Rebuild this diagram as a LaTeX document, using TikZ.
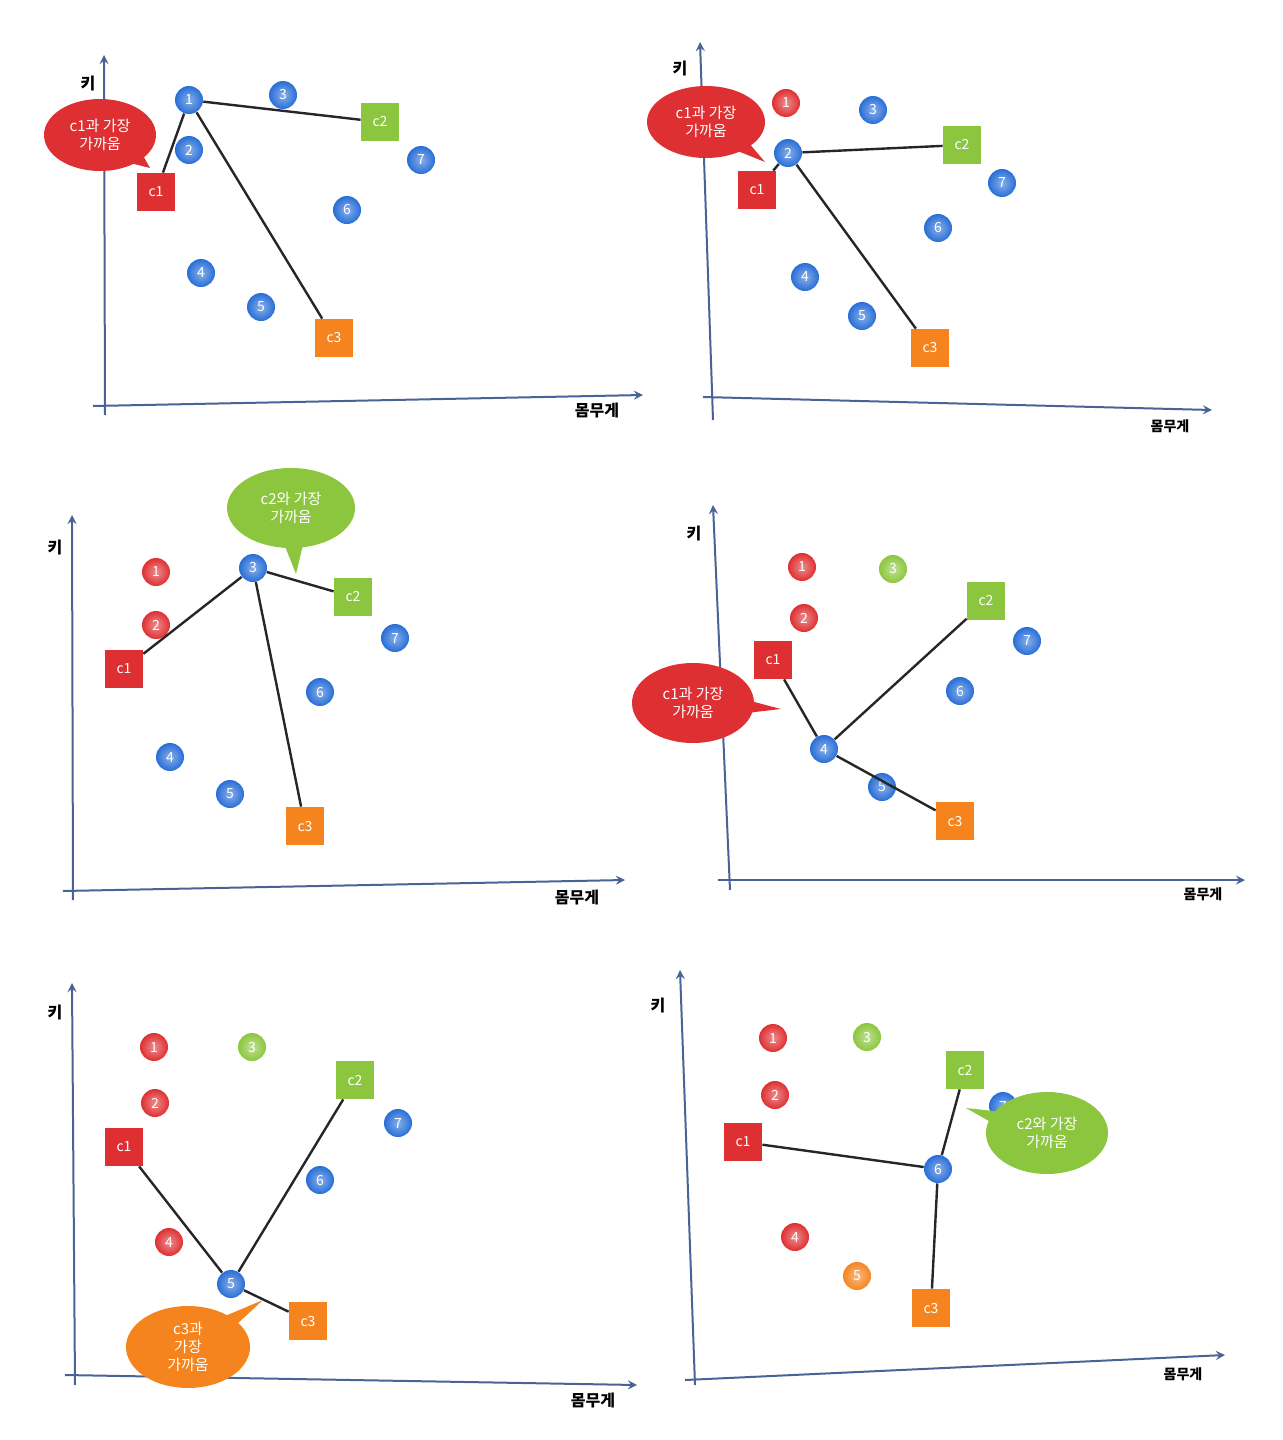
\documentclass[tikz,border=0pt]{standalone}
\usepackage{fontspec}
\setmainfont{Noto Sans CJK KR}
\usetikzlibrary{arrows,shapes.callouts}

\definecolor{ptblue}{RGB}{40,110,215}
\definecolor{ptred}{RGB}{222,48,50}
\definecolor{ptgreen}{RGB}{140,198,62}
\definecolor{ptorange}{RGB}{246,132,30}
\definecolor{axisblue}{RGB}{72,100,150}

\begin{document}
\begin{tikzpicture}
  [x=0.5pt,y=-0.5pt,
   pt/.style={circle,minimum size=14pt,inner sep=0pt,text=white,font=\fontsize{7}{8}\selectfont},
   ctr/.style={rectangle,minimum size=19pt,inner sep=0pt,text=white,font=\fontsize{7}{8}\selectfont},
   link/.style={draw=black!85,line width=1.2pt},
   axis/.style={draw=axisblue,line width=1pt,->,>=stealth},
   axlabel/.style={font=\fontsize{8}{9}\selectfont\bfseries,inner sep=0pt},
   bubble/.style={ellipse callout,inner sep=0pt,text=white,align=center,
     font=\fontsize{7.5}{9}\selectfont}]

  \useasboundingbox (0,0) rectangle (1282,1440);

  % top left
  \foreach \n/\x/\y/\c in {1/189/100/blue,2/189/150/blue,3/283/95/blue,4/201/273/blue,
      5/261/307/blue,6/347/210/blue,7/421/160/blue}
    \node[pt,inner color=pt\c!55!white,outer color=pt\c] (a\n) at (\x,\y) {\n};
  \node[ctr,fill=ptred]    (ac1) at (156,192) {c1};
  \node[ctr,fill=ptgreen]  (ac2) at (380,122) {c2};
  \node[ctr,fill=ptorange] (ac3) at (334,338) {c3};
  \coordinate (ay0) at (105,415); \coordinate (ay1) at (104,55);
  \coordinate (ax0) at (93,406);  \coordinate (ax1) at (643,395);
  \draw[axis] (ay0) -- (ay1);
  \draw[axis] (ax0) -- (ax1);
  \node[axlabel] (aky) at (88,83) {키};
  \node[axlabel] (akg) at (597,411) {몸무게};
  \draw[link] (a1) -- (ac1) (a1) -- (ac2) (a1) -- (ac3);
  \node[bubble,fill=ptred,minimum width=56pt,minimum height=36pt,
    callout absolute pointer={(150,168)}] (asay) at (100,135) {c1과 가장\\가까움};

  % top right
  \foreach \n/\x/\y/\c in {1/786/103/red,2/788/153/blue,3/873/110/blue,4/805/277/blue,
      5/862/316/blue,6/938/228/blue,7/1002/183/blue}
    \node[pt,inner color=pt\c!55!white,outer color=pt\c] (b\n) at (\x,\y) {\n};
  \node[ctr,fill=ptred]    (bc1) at (757,190) {c1};
  \node[ctr,fill=ptgreen]  (bc2) at (962,145) {c2};
  \node[ctr,fill=ptorange] (bc3) at (930,348) {c3};
  \coordinate (by0) at (713,420); \coordinate (by1) at (700,42);
  \coordinate (bx0) at (703,397); \coordinate (bx1) at (1212,410);
  \draw[axis] (by0) -- (by1);
  \draw[axis] (bx0) -- (bx1);
  \node[axlabel] (bky) at (680,68) {키};
  \node[axlabel,font=\fontsize{7}{8}\selectfont\bfseries] (bkg) at (1170,426) {몸무게};
  \draw[link] (b2) -- (bc1) (b2) -- (bc2) (b2) -- (bc3);
  \node[bubble,fill=ptred,minimum width=59pt,minimum height=36pt,
    callout absolute pointer={(765,162)}] (bsay) at (706,122) {c1과 가장\\가까움};

  % middle left
  \foreach \n/\x/\y/\c in {1/156/572/red,2/156/625/red,3/253/568/blue,4/170/757/blue,
      5/230/794/blue,6/320/692/blue,7/395/638/blue}
    \node[pt,inner color=pt\c!55!white,outer color=pt\c] (c\n) at (\x,\y) {\n};
  \node[ctr,fill=ptred]    (cc1) at (124,669) {c1};
  \node[ctr,fill=ptgreen]  (cc2) at (353,597) {c2};
  \node[ctr,fill=ptorange] (cc3) at (305,826) {c3};
  \coordinate (cy0) at (73,900); \coordinate (cy1) at (72,515);
  \coordinate (cx0) at (63,891); \coordinate (cx1) at (625,880);
  \draw[axis] (cy0) -- (cy1);
  \draw[axis] (cx0) -- (cx1);
  \node[axlabel] (cky) at (55,547) {키};
  \node[axlabel] (ckg) at (577,897) {몸무게};
  \draw[link] (c3) -- (cc1) (c3) -- (cc2) (c3) -- (cc3);
  \node[bubble,fill=ptgreen,minimum width=64pt,minimum height=40pt,
    callout absolute pointer={(296,574)}] (csay) at (291,508) {c2와 가장\\가까움};

  % middle right
  \foreach \n/\x/\y/\c in {1/802/567/red,2/804/618/red,3/893/569/green,4/824/749/blue,
      5/882/787/blue,6/960/691/blue,7/1027/641/blue}
    \node[pt,inner color=pt\c!55!white,outer color=pt\c] (d\n) at (\x,\y) {\n};
  \node[ctr,fill=ptred]    (dc1) at (773,660) {c1};
  \node[ctr,fill=ptgreen]  (dc2) at (986,601) {c2};
  \node[ctr,fill=ptorange] (dc3) at (955,821) {c3};
  \coordinate (dy0) at (730,890); \coordinate (dy1) at (713,505);
  \coordinate (dx0) at (718,880); \coordinate (dx1) at (1245,880);
  \draw[axis] (dy0) -- (dy1);
  \draw[axis] (dx0) -- (dx1);
  \node[axlabel] (dky) at (694,533) {키};
  \node[axlabel,font=\fontsize{7}{8}\selectfont\bfseries] (dkg) at (1203,894) {몸무게};
  \draw[link] (d4) -- (dc1) (d4) -- (dc2) (d4) -- (dc3);
  \node[bubble,fill=ptred,minimum width=61pt,minimum height=40pt,
    callout absolute pointer={(781,709)}] (dsay) at (693,703) {c1과 가장\\가까움};

  % bottom left
  \foreach \n/\x/\y/\c in {1/154/1047/red,2/155/1103/red,3/252/1047/green,4/169/1242/red,
      5/231/1284/blue,6/320/1180/blue,7/398/1123/blue}
    \node[pt,inner color=pt\c!55!white,outer color=pt\c] (e\n) at (\x,\y) {\n};
  \node[ctr,fill=ptred]    (ec1) at (124,1147) {c1};
  \node[ctr,fill=ptgreen]  (ec2) at (355,1080) {c2};
  \node[ctr,fill=ptorange] (ec3) at (308,1321) {c3};
  \coordinate (ey0) at (75,1385); \coordinate (ey1) at (72,983);
  \coordinate (ex0) at (65,1375); \coordinate (ex1) at (637,1385);
  \draw[axis] (ey0) -- (ey1);
  \draw[axis] (ex0) -- (ex1);
  \node[axlabel] (eky) at (55,1012) {키};
  \node[axlabel] (ekg) at (593,1400) {몸무게};
  \draw[link] (e5) -- (ec1) (e5) -- (ec2) (e5) -- (ec3);
  \node[bubble,fill=ptorange,minimum width=62pt,minimum height=41pt,
    callout absolute pointer={(263,1300)}] (esay) at (188,1347) {c3과\\가장\\가까움};

  % bottom right
  \foreach \n/\x/\y/\c in {1/773/1038/red,2/775/1095/red,3/867/1037/green,4/795/1237/red,
      5/857/1276/orange,6/938/1169/blue,7/1003/1106/blue}
    \node[pt,inner color=pt\c!55!white,outer color=pt\c] (f\n) at (\x,\y) {\n};
  \node[ctr,fill=ptred]    (fc1) at (743,1142) {c1};
  \node[ctr,fill=ptgreen]  (fc2) at (965,1070) {c2};
  \node[ctr,fill=ptorange] (fc3) at (931,1308) {c3};
  \coordinate (fy0) at (695,1385); \coordinate (fy1) at (680,970);
  \coordinate (fx0) at (685,1380); \coordinate (fx1) at (1225,1355);
  \draw[axis] (fy0) -- (fy1);
  \draw[axis] (fx0) -- (fx1);
  \node[axlabel] (fky) at (658,1005) {키};
  \node[axlabel,font=\fontsize{7}{8}\selectfont\bfseries] (fkg) at (1183,1374) {몸무게};
  \draw[link] (f6) -- (fc1) (f6) -- (fc2) (f6) -- (fc3);
  \node[bubble,fill=ptgreen,minimum width=61pt,minimum height=41pt,
    callout absolute pointer={(966,1108)}] (fsay) at (1047,1133) {c2와 가장\\가까움};
\end{tikzpicture}
\end{document}
